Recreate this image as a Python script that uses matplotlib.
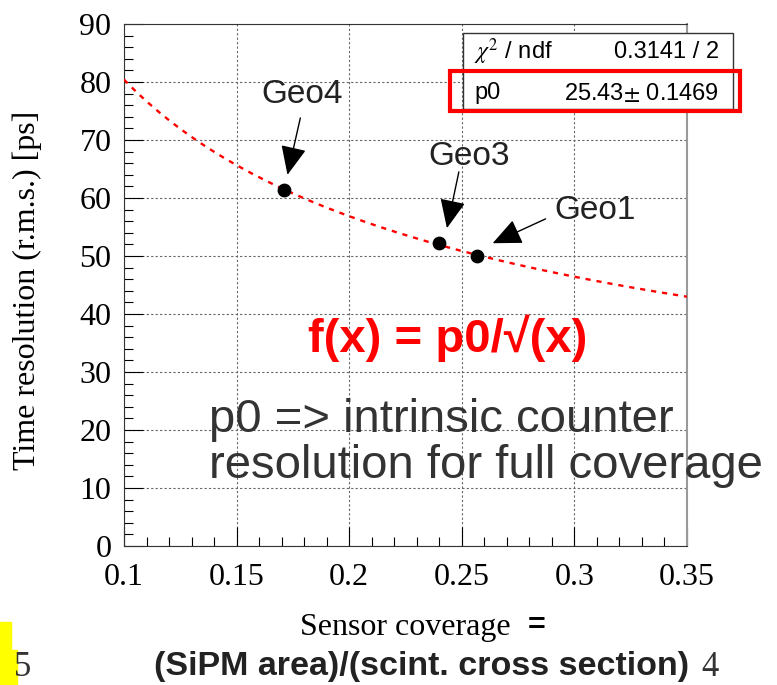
import numpy as np
import matplotlib.pyplot as plt
from matplotlib.patches import Rectangle

# dati
geo_names = ['Geo4', 'Geo3', 'Geo1']
coverage = [0.1712, 0.2398, 0.2568]
resolution = [61.3, 52.2, 50.0]
p0 = 25.43
p0_err = 0.1469
chi2_txt = '0.3141 / 2'

# posizioni etichette e frecce (coordinate dati)
label_pos = [(0.1792, 77.8), (0.2531, 67.1), (0.3093, 57.9)]
arrow_start = [(0.1783, 73.8), (0.2487, 64.5), (0.2872, 56.4)]
arrow_tip = [(0.1726, 64.0), (0.2434, 54.8), (0.2637, 52.2)]

W, H = 777, 685
fig = plt.figure(figsize=(W/100, H/100), dpi=100)
ax = fig.add_axes([124/W, 1-546/H, 563/W, 522/H])

serif = 'Liberation Serif'
sans = 'Liberation Sans'
plt.rcParams['mathtext.fontset'] = 'stix'

# curva di fit f(x)=p0/sqrt(x)
xf = np.linspace(0.1, 0.35, 300)
ax.plot(xf, p0/np.sqrt(xf), color='red', ls=(0, (2.2, 2.5)), lw=1.7, zorder=3)
ax.scatter(coverage, resolution, s=80, color='black', zorder=4)

ax.set_xlim(0.1, 0.35)
ax.set_ylim(0, 90)
ax.set_xticks([0.1, 0.15, 0.2, 0.25, 0.3, 0.35])
ax.set_xticklabels(['0.1', '0.15', '0.2', '0.25', '0.3', '0.35'])
ax.set_yticks(range(0, 91, 10))
ax.set_xticks(np.arange(0.1, 0.351, 0.01), minor=True)
ax.set_yticks(range(0, 91, 2), minor=True)
ax.tick_params(direction='in', which='major', length=14, width=0.8, labelsize=23)
ax.tick_params(direction='in', which='minor', length=6.5, width=0.8)
ax.tick_params(axis='x', which='major', pad=12)
ax.tick_params(axis='y', which='major', pad=9)
for lab in ax.get_xticklabels() + ax.get_yticklabels():
    lab.set_fontfamily(serif)
ax.grid(True, which='major', ls=(0, (2, 2)), color='#666666', lw=0.8)
for s in ['top', 'left', 'bottom']:
    ax.spines[s].set_color('#333333')
ax.spines['right'].set_color('#999999')
ax.spines['right'].set_linewidth(1.5)

ax.set_ylabel('Time resolution (r.m.s.) [ps]', fontfamily=serif, fontsize=23)
ax.yaxis.set_label_coords(-0.145, 0.49)

for name, lp, st, tp in zip(geo_names, label_pos, arrow_start, arrow_tip):
    ax.text(lp[0], lp[1], name, fontfamily=sans, fontsize=24, color='#222222', ha='center', va='center')
    ax.annotate('', xy=tp, xytext=st,
                arrowprops=dict(arrowstyle='-|>,head_length=0.9,head_width=0.4', color='black',
                                lw=1.0, mutation_scale=20, shrinkA=0, shrinkB=0))

# testi
fig.text(448/W, 1-338/H, 'f(x) = p0/\u221a(x)', color='red', fontweight='bold', fontfamily=sans,
         fontsize=34, ha='center', va='center')
fig.text(209/W, 1-443/H, 'p0 => intrinsic counter\nresolution for full coverage', color='#333333',
         fontfamily=sans, fontsize=34, ha='left', va='center', linespacing=1.08)

# box statistiche
fig.patches.append(Rectangle((463/W, 1-109/H), 270/W, 76/H, transform=fig.transFigure,
                             fill=True, facecolor='white', edgecolor='#333333', lw=1.0, zorder=5))
fig.patches.append(Rectangle((450/W, 1-111/H), 290/W, 40/H, transform=fig.transFigure,
                             fill=False, edgecolor='red', lw=3, zorder=6))
fig.text(474/W, 1-52/H, '$\\chi^2$ / ndf', fontfamily=sans, fontsize=17, va='center', zorder=7)
fig.text(719/W, 1-52/H, chi2_txt, fontfamily=sans, fontsize=17, va='center', ha='right', zorder=7)
fig.text(474/W, 1-93/H, 'p0', fontfamily=sans, fontsize=17, va='center', zorder=7)
fig.text(719/W, 1-93/H, f'{p0:.2f}$\\pm$ {p0_err:.4f}', fontfamily=sans, fontsize=17,
         va='center', ha='right', zorder=7)

# etichetta asse x
fig.text(405/W, 1-627/H, 'Sensor coverage', fontfamily=serif, fontsize=23, ha='center', va='center')
fig.text(537/W, 1-626/H, '=', fontfamily=sans, fontweight='bold', fontsize=22, ha='center', va='center')
fig.text(422/W, 1-667/H, '(SiPM area)/(scint. cross section)',
         fontfamily=sans, fontweight='bold', fontsize=24.5,
         ha='center', va='center', color='#222222')
fig.text(710/W, 1-668/H, '4', fontfamily=serif, fontsize=25, ha='center', va='center', color='#333333')

# evidenziatore giallo e numero pagina
fig.patches.append(Rectangle((0, 1-685/H), 17/W, 35/H, transform=fig.transFigure, color='#ffff00', zorder=1))
fig.patches.append(Rectangle((0, 1-650/H), 11/W, 28/H, transform=fig.transFigure, color='#ffff00', zorder=1))
fig.text(23/W, 1-668/H, '5', fontfamily=serif, fontsize=25, ha='center', va='center', color='#333333')

fig.savefig('out.png', dpi=100)
